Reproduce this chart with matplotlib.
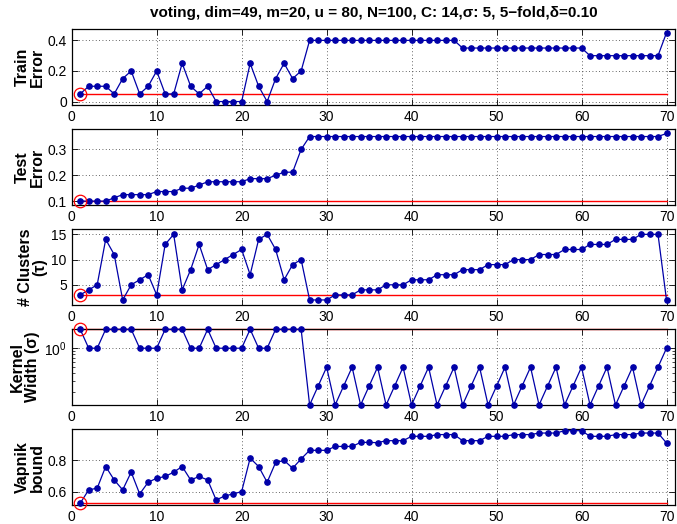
import numpy as np
import matplotlib
matplotlib.use("Agg")
import matplotlib.pyplot as plt
from matplotlib.ticker import NullFormatter, FixedLocator

plt.rcParams['font.family'] = ['Liberation Sans', 'DejaVu Sans']

# datos
x = np.arange(1, 71)

train_err = [0.05, 0.1, 0.1, 0.1, 0.05, 0.15, 0.2, 0.05, 0.1, 0.2,
             0.05, 0.05, 0.25, 0.1, 0.05, 0.1, 0.0, 0.0, 0.0, 0.0,
             0.25, 0.1, 0.0, 0.15, 0.25, 0.15, 0.2] + [0.4] * 18 + [0.35] * 15 + [0.3] * 9 + [0.45]

test_err = [0.1, 0.1, 0.1, 0.1, 0.113, 0.125, 0.125, 0.125, 0.125, 0.137,
            0.137, 0.137, 0.15, 0.15, 0.162, 0.175, 0.175, 0.175, 0.175, 0.175,
            0.187, 0.187, 0.187, 0.2, 0.212, 0.212, 0.3] + [0.35] * 42 + [0.362]

clusters = [3, 4, 5, 14, 11, 2, 5, 6, 7, 3,
            13, 15, 4, 8, 13, 8, 9, 10, 11, 12,
            7, 14, 15, 12, 6, 9, 10,
            2, 2, 2, 3, 3, 3, 4, 4, 4, 5, 5, 5, 6, 6, 6, 7, 7, 7,
            8, 8, 8, 9, 9, 9, 10, 10, 10, 11, 11, 11, 12, 12, 12,
            13, 13, 13, 14, 14, 14, 15, 15, 15, 2]

kwidth = [2, 1, 1, 2, 2, 2, 2, 1, 1, 1,
          2, 2, 2, 1, 1, 2, 1, 1, 1, 1,
          2, 1, 1, 2, 2, 2, 2] + [0.125, 0.25, 0.5] * 14 + [1]

vapnik = [0.525, 0.611, 0.622, 0.761, 0.675, 0.611, 0.725, 0.585, 0.66, 0.686,
          0.697, 0.725, 0.761, 0.675, 0.697, 0.675, 0.546, 0.572, 0.585, 0.6,
          0.815, 0.761, 0.66, 0.787, 0.8, 0.75, 0.81, 0.865, 0.865, 0.865,
          0.89, 0.89, 0.89, 0.916, 0.916, 0.914, 0.927, 0.927, 0.927, 0.955,
          0.955, 0.955, 0.966, 0.966, 0.966, 0.927, 0.927, 0.927, 0.955, 0.955,
          0.955, 0.966, 0.966, 0.966, 0.976, 0.976, 0.976, 0.991, 0.991, 0.991,
          0.955, 0.955, 0.955, 0.966, 0.966, 0.966, 0.976, 0.976, 0.976, 0.912]

series = [train_err, test_err, clusters, kwidth, vapnik]
labels = ['Train\nError', 'Test\nError', '# Clusters\n(\u03c4)', 'Kernel\nWidth (\u03c3)', 'Vapnik\nbound']
ylims = [(-0.0225, 0.4725), (0.085, 0.378), (1.0, 16.0), (0.125, 2.0), (0.514, 1.0)]
yticks = [[0, 0.2, 0.4], [0.1, 0.2, 0.3], [5, 10, 15], None, [0.6, 0.8]]
yticklabels = [['0', '0.2', '0.4'], ['0.1', '0.2', '0.3'], ['5', '10', '15'], None, ['0.6', '0.8']]
labelx = [-0.045, -0.045, -0.040, -0.052, -0.045]

azul = '#0000a8'

fig = plt.figure(figsize=(6.77, 5.24), dpi=100)
W, H = 677.0, 524.0

for i in range(5):
    bot = 1 - (105.0 + 100 * i) / H
    ax = fig.add_axes([71.7 / W, bot, (675 - 71.7) / W, 75.7 / H])
    y = series[i]
    ax.plot(x, y, '-', color=azul, lw=0.9, marker='o', ms=3.8, mfc=azul, mec=azul, zorder=3, clip_on=False)
    ax.plot([x[0], x[-1]], [y[0], y[0]], '-', color='red', lw=1.0, zorder=2, clip_on=False)
    ax.plot([x[0]], [y[0]], 'o', mfc='none', mec='red', ms=9, mew=0.9, zorder=4, clip_on=False)
    if i == 3:
        ax.set_yscale('log')
        ax.yaxis.set_major_locator(FixedLocator([1]))
        ax.yaxis.set_minor_formatter(NullFormatter())
    else:
        ax.set_yticks(yticks[i])
        ax.set_yticklabels(yticklabels[i])
    ax.set_xlim(0, 71)
    ax.set_ylim(*ylims[i])
    ax.set_xticks(range(0, 71, 10))
    ax.grid(True, which='major', ls=(0, (1, 3)), color='#333333', lw=0.6)
    ax.tick_params(direction='in', top=True, right=True, length=4, labelsize=10, width=0.6)
    ax.tick_params(which='minor', direction='in', right=True, length=2, width=0.5)
    for s in ax.spines.values():
        s.set_linewidth(0.9)
    ax.set_ylabel(labels[i], fontsize=11.5, fontweight='bold', linespacing=1.0)
    ax.yaxis.set_label_coords(labelx[i], 0.5)
    if i == 0:
        ax.set_title('voting, dim=49, m=20, u = 80, N=100, C: 14,\u03c3: 5, 5\u2212fold,\u03b4=0.10',
                     fontsize=11, fontweight='bold', pad=9)

fig.savefig('out.png', dpi=100)
